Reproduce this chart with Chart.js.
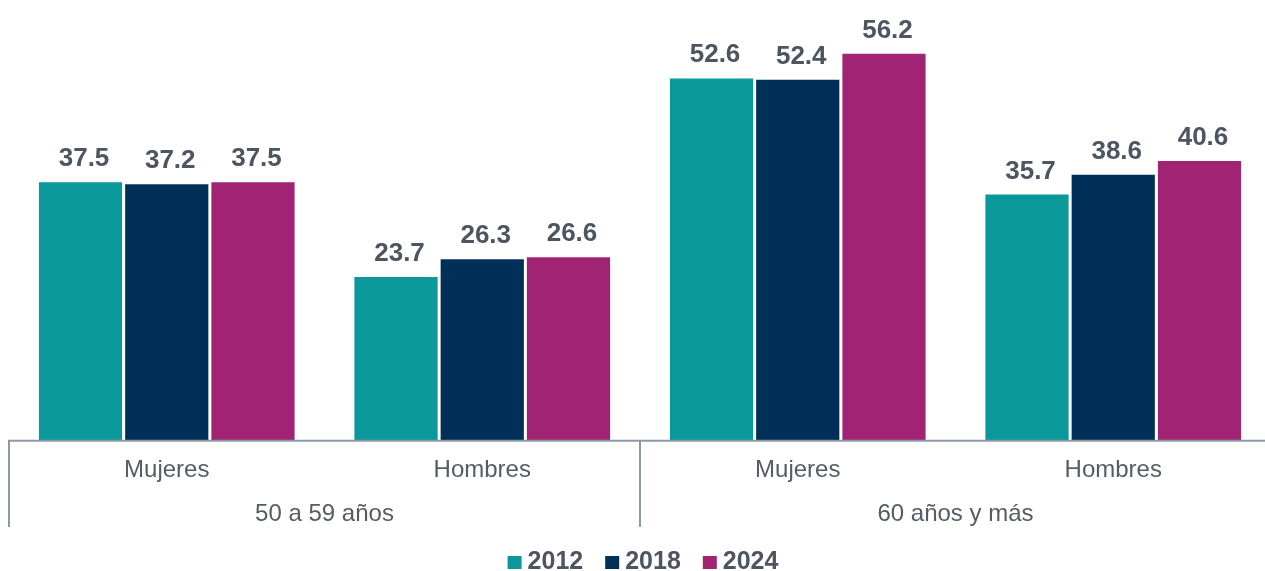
<!DOCTYPE html>
<html><head><meta charset="utf-8">
<script src="https://cdn.jsdelivr.net/npm/chart.js@4"></script>
<style>
html,body{margin:0;padding:0;background:#fff;overflow:hidden;}
#wrap{width:1272px;height:571px;position:relative;}
</style></head><body>
<div id="wrap"><canvas id="c"></canvas></div>
<script>
const categories = ['Mujeres','Hombres','Mujeres','Hombres'];
const groups = ['50 a 59 años','60 años y más'];
const seriesNames = ['2012','2018','2024'];
const v2012 = [37.5, 23.7, 52.6, 35.7];
const v2018 = [37.2, 26.3, 52.4, 38.6];
const v2024 = [37.5, 26.6, 56.2, 40.6];
const colors = ['#0A989A','#003057','#A02473'];
const textColor = '#4D5560';
const tickColor = '#555C64';
const lineColor = '#8C9AA8';

const FONT = '"Liberation Sans", Arial, sans-serif';

const labelPlugin = {
  id:'vals',
  afterDatasetsDraw(chart){
    const ctx = chart.ctx;
    ctx.save();
    ctx.font = 'bold 26px ' + FONT;
    ctx.fillStyle = textColor;
    ctx.textAlign = 'center';
    ctx.textBaseline = 'alphabetic';
    chart.data.datasets.forEach((ds,i)=>{
      chart.getDatasetMeta(i).data.forEach((bar,j)=>{
        ctx.fillText(ds.data[j].toFixed(1), bar.x + 3.5, bar.y - 16);
      });
    });
    ctx.restore();
  }
};
const sepPlugin = {
  id:'sep',
  afterDraw(chart){
    const ctx = chart.ctx, a = chart.chartArea;
    const x = chart.scales.x;
    const mid = (x.getPixelForValue(1) + x.getPixelForValue(2))/2;
    ctx.save();
    ctx.strokeStyle = lineColor;
    ctx.lineWidth = 2;
    [a.left, mid, a.right].forEach(px=>{
      ctx.beginPath(); ctx.moveTo(px, a.bottom); ctx.lineTo(px, 527); ctx.stroke();
    });
    ctx.beginPath(); ctx.moveTo(a.left - 1, a.bottom + 0.8); ctx.lineTo(a.right, a.bottom + 0.8); ctx.stroke();
    ctx.restore();
  }
};
const legendPlugin = {
  id:'customLegend',
  afterDraw(chart){
    const ctx = chart.ctx;
    ctx.save();
    ctx.font = 'bold 25px ' + FONT;
    const box = 14, gap = 6, spacing = 22;
    const items = chart.data.datasets.map(ds=>({t:ds.label, c:ds.backgroundColor, w:ctx.measureText(ds.label).width}));
    const total = items.reduce((s,it)=>s+box+gap+it.w,0) + spacing*(items.length-1);
    let x = 643 - total/2;
    const baseY = 569;
    ctx.textBaseline = 'alphabetic';
    ctx.textAlign = 'left';
    items.forEach(it=>{
      ctx.fillStyle = it.c;
      ctx.fillRect(x, baseY - 13, box, 13);
      ctx.fillStyle = textColor;
      ctx.fillText(it.t, x + box + gap, baseY);
      x += box + gap + it.w + spacing;
    });
    ctx.restore();
  }
};

new Chart(document.getElementById('c'), {
  type:'bar',
  data:{
    labels: categories,
    datasets:[
      {label:seriesNames[0], data:v2012, backgroundColor:colors[0]},
      {label:seriesNames[1], data:v2018, backgroundColor:colors[1]},
      {label:seriesNames[2], data:v2024, backgroundColor:colors[2]}
    ]
  },
  options:{
    responsive:true, maintainAspectRatio:false, animation:false,
    devicePixelRatio:1,
    layout:{padding:{left:9,right:1,top:0,bottom:44}},
    datasets:{bar:{categoryPercentage:0.82, barPercentage:0.965}},
    scales:{
      y:{display:false, min:0, max:64},
      x:{
        grid:{display:false},
        border:{display:false},
        ticks:{font:{size:24, family:FONT}, color:tickColor, padding:8},
        afterFit(s){ s.height = 44; }
      },
      x2:{
        type:'category', position:'bottom', labels:groups, offset:true,
        grid:{display:false}, border:{display:false},
        ticks:{font:{size:24, family:FONT}, color:tickColor, padding:8},
        afterFit(s){ s.height = 43; }
      }
    },
    plugins:{
      tooltip:{enabled:false},
      legend:{display:false}
    }
  },
  plugins:[labelPlugin, sepPlugin, legendPlugin]
});
</script></body></html>
